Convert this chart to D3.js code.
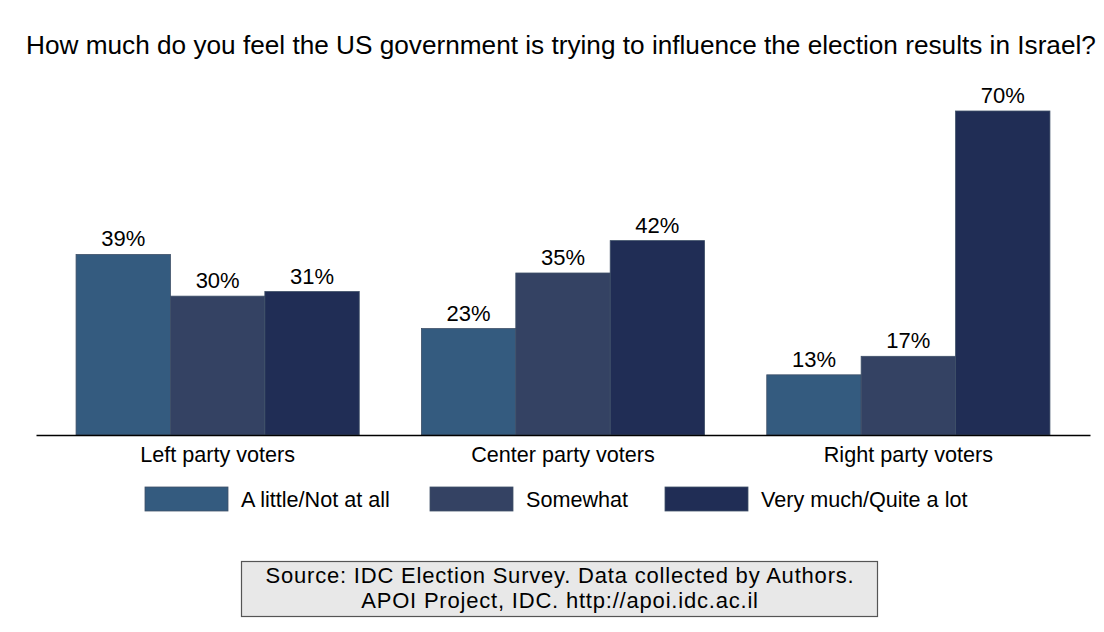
<!DOCTYPE html>
<html>
<head>
<meta charset="utf-8">
<script src="https://cdn.jsdelivr.net/npm/d3@7"></script>
<style>
  html, body { margin: 0; padding: 0; background: #fff; }
  svg { display: block; font-family: "Liberation Sans", Arial, Helvetica, sans-serif; }
</style>
</head>
<body>
<svg id="chart" width="1104" height="632"></svg>
<script>
// Voter groups and response categories
const groups = ["Left party voters", "Center party voters", "Right party voters"];
const responses = ["A little/Not at all", "Somewhat", "Very much/Quite a lot"];

// Percent of each group giving each response
const littleNotAtAll = [39, 23, 13];
const somewhat = [30, 35, 17];
const veryMuch = [31, 42, 70];

const seriesValues = [littleNotAtAll, somewhat, veryMuch];
const colors = ["#345b7f", "#344263", "#202d55"];

const title = "How much do you feel the US government is trying to influence the election results in Israel?";
const sourceLines = [
  "Source: IDC Election Survey. Data collected by Authors.",
  "APOI Project, IDC. http://apoi.idc.ac.il"
];

const svg = d3.select("#chart");

// Title
svg.append("text")
  .attr("x", 26)
  .attr("y", 54)
  .attr("font-size", 26.2)
  .attr("fill", "#000")
  .text(title);

// Scales
const x0 = d3.scaleBand()
  .domain(groups)
  .range([36, 1090])
  .paddingInner(0.18)
  .paddingOuter(0.116);

const x1 = d3.scaleBand()
  .domain(responses)
  .range([0, x0.bandwidth()])
  .padding(0);

const y = d3.scaleLinear()
  .domain([0, 70])
  .range([435, 111]);

// Bars and labels
const rows = [];
groups.forEach((g, gi) => {
  responses.forEach((r, ri) => {
    rows.push({ group: g, response: r, value: seriesValues[ri][gi], color: colors[ri] });
  });
});

const bars = svg.append("g").attr("class", "bars");
bars.selectAll("rect")
  .data(rows)
  .join("rect")
  .attr("x", d => x0(d.group) + x1(d.response))
  .attr("y", d => y(d.value))
  .attr("width", x1.bandwidth())
  .attr("height", d => y(0) - y(d.value))
  .attr("fill", d => d.color)
  .attr("stroke", "#3f5068")
  .attr("stroke-width", 0.8);

bars.selectAll("text")
  .data(rows)
  .join("text")
  .attr("x", d => x0(d.group) + x1(d.response) + x1.bandwidth() / 2)
  .attr("y", d => y(d.value) - 8)
  .attr("text-anchor", "middle")
  .attr("font-size", 22)
  .attr("fill", "#000")
  .text(d => d.value + "%");

// Category axis
const xAxis = svg.append("g")
  .attr("transform", `translate(0,${y(0)})`)
  .call(d3.axisBottom(x0).tickSize(0).tickSizeOuter(0));
xAxis.select(".domain").attr("stroke", "#000").attr("stroke-width", 1.3);
xAxis.selectAll("text")
  .attr("font-family", "Liberation Sans, Arial, Helvetica, sans-serif")
  .attr("font-size", 21.6)
  .attr("fill", "#000")
  .attr("dy", 0)
  .attr("y", 27);

// Legend
const legendX = [145, 430, 665];
const legend = svg.append("g").attr("class", "legend");
const items = legend.selectAll("g")
  .data(responses)
  .join("g")
  .attr("transform", (d, i) => `translate(${legendX[i]},487)`);
items.append("rect")
  .attr("width", 83)
  .attr("height", 24)
  .attr("fill", (d, i) => colors[i])
  .attr("stroke", "#3f5068")
  .attr("stroke-width", 0.8);
items.append("text")
  .attr("x", 96)
  .attr("y", 20)
  .attr("font-size", 21.6)
  .attr("fill", "#000")
  .text(d => d);

// Source note box
const note = svg.append("g").attr("class", "note");
note.append("rect")
  .attr("x", 241.5)
  .attr("y", 561.5)
  .attr("width", 636)
  .attr("height", 55)
  .attr("fill", "#e8e8e8")
  .attr("stroke", "#555")
  .attr("stroke-width", 1.2);
note.selectAll("text")
  .data(sourceLines)
  .join("text")
  .attr("x", 560)
  .attr("y", (d, i) => 583 + i * 25)
  .attr("text-anchor", "middle")
  .attr("font-size", 22)
  .attr("letter-spacing", 0.8)
  .attr("fill", "#000")
  .text(d => d);
</script>
</body>
</html>
